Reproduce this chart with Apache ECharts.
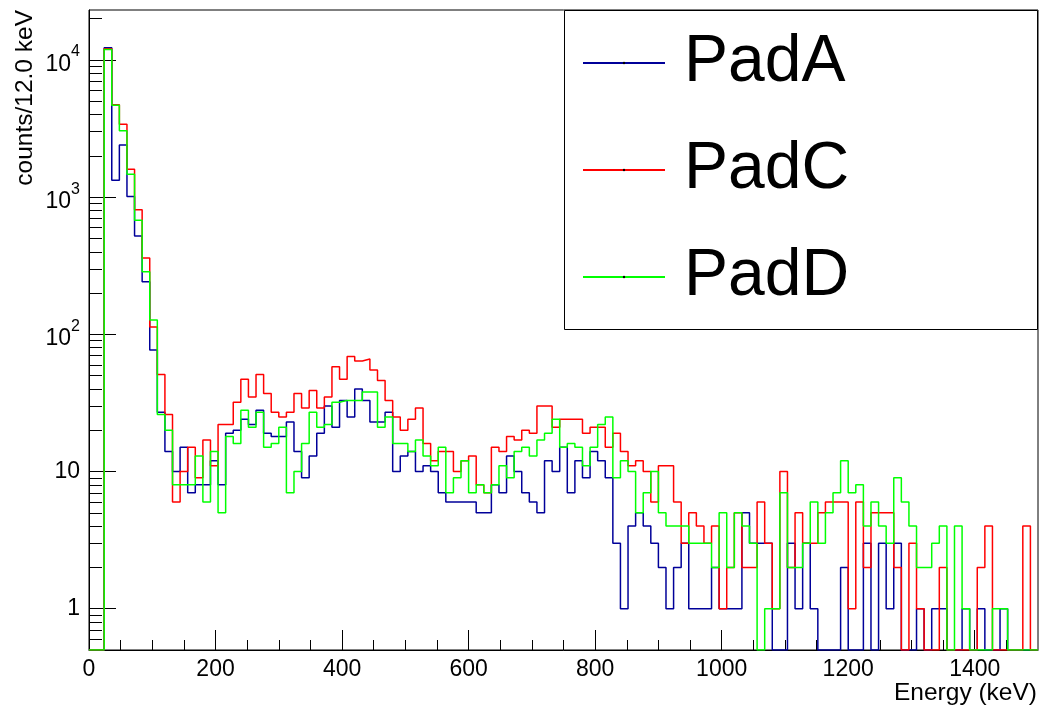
<!DOCTYPE html>
<html>
<head>
<meta charset="utf-8">
<script src="https://cdn.jsdelivr.net/npm/echarts@6.0.0/dist/echarts.min.js"></script>
<style>
  html, body { margin: 0; padding: 0; background: #fff; }
  #energyChart { width: 1041px; height: 709px; }
</style>
</head>
<body>
<div id="energyChart"></div>
<script>
  // 12 keV bins from 0 to 1500 keV (125 bins), counts per bin
  const binWidth = 12;
  const padA = [
    0, 0, 12300, 1330, 2400, 1010, 520, 242, 77, 27,
    14, 10, 15, 7, 8, 8, 12, 8, 19, 20,
    24, 22, 28, 19, 18, 18, 23, 14, 9, 13,
    19, 30, 21, 33, 25, 40, 33, 23, 23, 27,
    10, 13, 14, 10, 11, 10, 7, 6, 6, 6,
    6, 5, 5, 8, 7, 13, 10, 7, 6, 5,
    12, 10, 15, 7, 12, 9, 14, 12, 9, 3,
    1, 4, 5, 4, 3, 2, 1, 2, 3, 1,
    1, 1, 2, 1, 1, 1, 5, 3, 3, 3,
    0, 0, 3, 1, 3, 1, 0, 0, 0, 2,
    0, 0, 3, 0, 3, 1, 3, 0, 0, 1,
    0, 1, 1, 0, 0, 1, 0, 1, 0, 0,
    1, 0, 0, 0, 0
  ];
  const padC = [
    0, 0, 12100, 4720, 3400, 1600, 810, 360, 113, 51,
    26, 6, 10, 15, 9, 17, 11, 22, 22, 32,
    47, 35, 51, 37, 27, 25, 27, 37, 29, 39,
    29, 35, 58, 47, 69, 64, 66, 55, 46, 33,
    25, 20, 24, 29, 16, 12, 14, 14, 10, 12,
    13, 8, 7, 15, 14, 18, 17, 20, 19, 30,
    30, 21, 24, 24, 24, 19, 21, 21, 15, 19,
    14, 11, 12, 10, 6, 11, 11, 6, 3, 5,
    4, 3, 4, 1, 2, 5, 2, 2, 6, 3,
    1, 10, 2, 5, 3, 3, 5, 6, 6, 6,
    1, 6, 2, 5, 5, 5, 2, 0, 3, 1,
    0, 0, 2, 0, 0, 0, 0, 2, 4, 0,
    0, 0, 0, 4, 0
  ];
  const padD = [
    0, 0, 11900, 4680, 3050, 1470, 680, 286, 127, 26,
    20, 8, 8, 8, 13, 6, 14, 5, 18, 16,
    28, 21, 27, 15, 16, 21, 7, 10, 16, 27,
    21, 22, 32, 33, 33, 33, 38, 38, 21, 25,
    16, 16, 14, 17, 13, 11, 15, 7, 9, 12,
    7, 8, 7, 8, 11, 9, 14, 15, 13, 17,
    19, 24, 15, 16, 15, 11, 15, 22, 25, 9,
    12, 10, 5, 7, 10, 5, 4, 4, 4, 3,
    3, 3, 2, 5, 2, 5, 4, 3, 0, 1,
    1, 7, 2, 2, 3, 6, 3, 5, 7, 12,
    7, 8, 4, 6, 4, 3, 9, 6, 4, 2,
    2, 3, 4, 0, 4, 1, 0, 0, 0, 1,
    1, 0, 0, 0, 0
  ];
  const seriesNames = ['PadA', 'PadC', 'PadD'];
  const seriesColors = ['#000099', '#ff0000', '#00ff00'];
  const xTickLabels = [0, 200, 400, 600, 800, 1000, 1200, 1400];
  const yTickLabels = [1, 10, 100, 1000, 10000];

  const xMax = 1500;
  const yMin = 0.5;
  const yMax = 23140;

  // minor ticks: every 50 keV on x, 2..9 of each decade on y
  const xMinor = [];
  for (let v = 50; v < xMax; v += 50) {
    if (v % 200 !== 0) xMinor.push(v);
  }
  const yMinor = [];
  [0.1, 1, 10, 100, 1000, 10000].forEach((d) => {
    for (let k = 2; k <= 9; k++) {
      const v = d * k;
      if (v > yMin && v < yMax) yMinor.push(+v.toPrecision(3));
    }
  });

  // histogram as a step line through bin edges; empty bins sit on the frame floor
  function toSteps(counts) {
    const pts = counts.map((c, i) => [i * binWidth, c > 0 ? c : yMin]);
    const last = counts[counts.length - 1];
    pts.push([counts.length * binWidth, last > 0 ? last : yMin]);
    return pts;
  }

  const font = '"Liberation Sans", Arial, Helvetica, sans-serif';
  const chart = echarts.init(document.getElementById('energyChart'));

  const baseX = {
    type: 'value',
    min: 0,
    max: xMax,
    position: 'bottom',
    splitLine: { show: false },
  };
  const baseY = {
    type: 'log',
    logBase: 10,
    min: yMin,
    max: yMax,
    position: 'left',
    splitLine: { show: false },
  };

  const option = {
    animation: false,
    backgroundColor: '#fff',
    grid: {
      left: 89,
      right: 3,
      top: 10,
      bottom: 59,
      show: true,
      borderColor: '#000',
      borderWidth: 1,
      backgroundColor: 'transparent',
    },
    xAxis: [
      Object.assign({}, baseX, {
        axisLine: { show: true, lineStyle: { color: '#000', width: 1 } },
        axisTick: {
          inside: true,
          length: 20,
          customValues: xTickLabels,
          lineStyle: { color: '#000' },
        },
        axisLabel: {
          customValues: xTickLabels,
          color: '#000',
          fontFamily: font,
          fontSize: 23,
          margin: 8,
          formatter: (v) => String(v),
        },
      }),
      Object.assign({}, baseX, {
        axisLine: { show: false },
        axisTick: {
          inside: true,
          length: 10,
          customValues: xMinor,
          lineStyle: { color: '#000' },
        },
        axisLabel: { show: false },
      }),
    ],
    yAxis: [
      Object.assign({}, baseY, {
        axisLine: { show: true, lineStyle: { color: '#000', width: 1 } },
        axisTick: {
          inside: true,
          length: 27,
          customValues: yTickLabels,
          lineStyle: { color: '#000' },
        },
        axisLabel: {
          customValues: yTickLabels,
          color: '#000',
          fontFamily: font,
          fontSize: 23,
          margin: 9,
          formatter: (v) => {
            const p = Math.round(Math.log10(v));
            if (p < 2) return String(Math.round(v));
            return '{b|10}{s|' + p + '}';
          },
          rich: {
            b: { fontFamily: font, fontSize: 23, color: '#000', verticalAlign: 'bottom', lineHeight: 32 },
            s: { fontFamily: font, fontSize: 16, color: '#000', verticalAlign: 'top', lineHeight: 32 },
          },
        },
      }),
      Object.assign({}, baseY, {
        axisLine: { show: false },
        axisTick: {
          inside: true,
          length: 13,
          customValues: yMinor,
          lineStyle: { color: '#000' },
        },
        axisLabel: { show: false },
      }),
    ],
    legend: {
      orient: 'vertical',
      left: 582,
      top: 30,
      itemWidth: 82,
      itemHeight: 3,
      itemGap: 41,
      padding: 0,
      data: seriesNames,
      itemStyle: { color: '#000', borderWidth: 0 },
      textStyle: {
        color: '#000',
        fontFamily: font,
        fontSize: 66,
        lineHeight: 66,
        padding: [0, 0, 0, 14],
      },
      z: 10,
    },
    graphic: [
      {
        type: 'rect',
        z: 5,
        shape: { x: 564.5, y: 10.5, width: 473, height: 319 },
        style: { fill: '#fff', stroke: '#000', lineWidth: 1 },
      },
      {
        type: 'text',
        x: 25,
        y: 10,
        rotation: Math.PI / 2,
        style: {
          text: 'counts/12.0 keV',
          fontFamily: font,
          fontSize: 24.5,
          fill: '#000',
          align: 'right',
          verticalAlign: 'middle',
        },
      },
      {
        type: 'text',
        x: 1037,
        y: 693,
        style: {
          text: 'Energy (keV)',
          fontFamily: font,
          fontSize: 24.5,
          fill: '#000',
          align: 'right',
          verticalAlign: 'middle',
        },
      },
    ],
    series: [padA, padC, padD].map((counts, i) => ({
      name: seriesNames[i],
      type: 'line',
      step: 'end',
      xAxisIndex: 0,
      yAxisIndex: 0,
      symbol: 'none',
      data: toSteps(counts),
      lineStyle: { color: seriesColors[i], width: 1.5 },
      itemStyle: { color: seriesColors[i] },
      z: 2 + i,
    })),
  };

  chart.setOption(option);
</script>
</body>
</html>
